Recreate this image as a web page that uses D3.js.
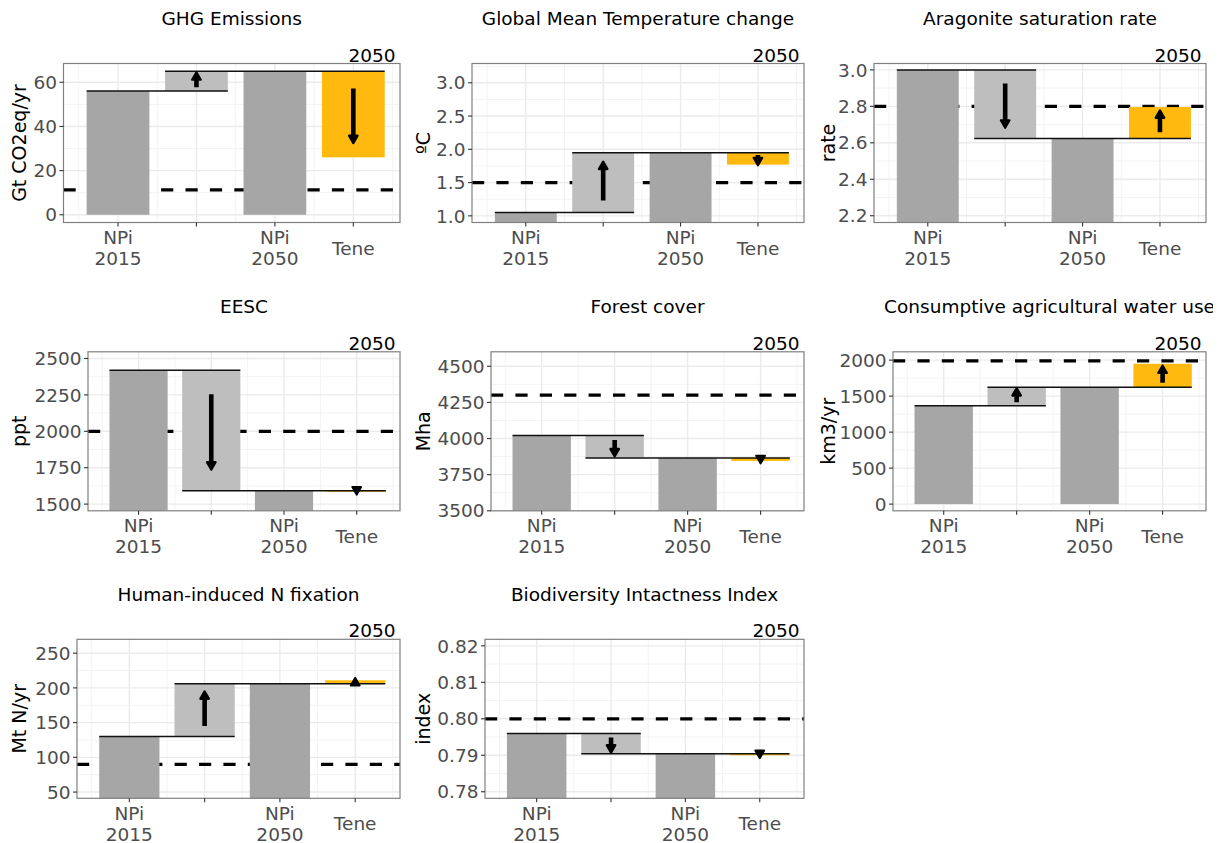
<!DOCTYPE html>
<html>
<head>
<meta charset="utf-8">
<script src="https://cdn.jsdelivr.net/npm/d3@7/dist/d3.min.js"></script>
<style>
  html, body { margin: 0; padding: 0; background: #fff; }
  svg { display: block; font-family: "DejaVu Sans", sans-serif; }
</style>
</head>
<body>
<svg id="chart" width="1222" height="843"></svg>
<script>
// Indicator panels: NPi 2015 -> NPi 2050 -> Tene (2050)
const panelTitles = [
  "GHG Emissions", "Global Mean Temperature change", "Aragonite saturation rate",
  "EESC", "Forest cover", "Consumptive agricultural water use",
  "Human-induced N fixation", "Biodiversity Intactness Index"
];
const unitLabels = ["Gt CO2eq/yr", "ºC", "rate", "ppt", "Mha", "km3/yr", "Mt N/yr", "index"];
const categories = ["NPi\n2015", "", "NPi\n2050", "Tene"];
const npi2015 = [56, 1.05, 3.0, 2419, 4021, 1365, 130, 0.796];
const npi2050 = [65, 1.95, 2.624, 1592, 3866, 1622, 206, 0.7904];
const tene2050 = [26, 1.77, 2.796, 1585, 3845, 1950, 211, 0.7900];
const boundary = [11.3, 1.5, 2.8, 2000, 4300, 1990, 90, 0.80];
const yTicks = [
  [0, 20, 40, 60],
  [1.0, 1.5, 2.0, 2.5, 3.0],
  [2.2, 2.4, 2.6, 2.8, 3.0],
  [1500, 1750, 2000, 2250, 2500],
  [3500, 3750, 4000, 4250, 4500],
  [0, 500, 1000, 1500, 2000],
  [50, 100, 150, 200, 250],
  [0.78, 0.79, 0.80, 0.81, 0.82]
];
const yTickFormats = ["d", ".1f", ".1f", "d", "d", "d", "d", ".2f"];
const yLimits = [
  [-3.5, 68.5], [0.90, 3.29], [2.163, 3.035], [1454, 2546],
  [3500, 4600], [-93, 2116], [41, 270], [0.7782, 0.8218]
];
const periodLabel = "2050";

// layout
const panelLefts = [63.5, 472, 874, 88, 491, 893, 77, 485];
const colRights = [400, 804, 1206];
const colStarts = [0, 404.3, 808.6];
const rowTops = [63.5, 351.8, 639.3];
const panelH = 159;
const xDomain = [0.305, 4.595];
const barHalf = 0.4;

const colDark = "#A6A6A6", colLight = "#BEBEBE", colTene = "#FFB90F";
const fs = 18.5;

const svg = d3.select("#chart");
const defs = svg.append("defs");
defs.append("clipPath").attr("id", "pageclip")
  .append("rect").attr("x", 0).attr("y", 0).attr("width", 1213).attr("height", 843);

panelTitles.forEach((title, i) => {
  const col = i % 3, row = Math.floor(i / 3);
  const L = panelLefts[i], R = colRights[col];
  const T = rowTops[row], B = T + panelH;

  const x = d3.scaleLinear().domain(xDomain).range([L, R]);
  const y = d3.scaleLinear().domain(yLimits[i]).range([B, T]);

  const g = svg.append("g");
  const cid = "clip" + i;
  defs.append("clipPath").attr("id", cid)
    .append("rect").attr("x", L).attr("y", T).attr("width", R - L).attr("height", B - T);

  // grid
  const grid = g.append("g");
  const maj = yTicks[i];
  const step = maj[1] - maj[0];
  const minors = [maj[0] - step / 2].concat(maj.map(v => v + step / 2))
    .filter(v => v > yLimits[i][0] && v < yLimits[i][1]);
  const xMinor = [0.5, 1.5, 2.5, 3.5, 4.5];
  grid.selectAll(".ymin").data(minors).join("line")
    .attr("x1", L).attr("x2", R).attr("y1", d => y(d)).attr("y2", d => y(d))
    .attr("stroke", "#f3f3f3").attr("stroke-width", 1);
  grid.selectAll(".xmin").data(xMinor).join("line")
    .attr("x1", d => x(d)).attr("x2", d => x(d)).attr("y1", T).attr("y2", B)
    .attr("stroke", "#f3f3f3").attr("stroke-width", 1);
  grid.selectAll(".ymaj").data(maj).join("line")
    .attr("x1", L).attr("x2", R).attr("y1", d => y(d)).attr("y2", d => y(d))
    .attr("stroke", "#ebebeb").attr("stroke-width", 1.4);
  grid.selectAll(".xmaj").data([1, 2, 3, 4]).join("line")
    .attr("x1", d => x(d)).attr("x2", d => x(d)).attr("y1", T).attr("y2", B)
    .attr("stroke", "#ebebeb").attr("stroke-width", 1.4);

  const plot = g.append("g").attr("clip-path", `url(#${cid})`);

  // boundary line
  plot.append("line")
    .attr("x1", L).attr("x2", R)
    .attr("y1", y(boundary[i])).attr("y2", y(boundary[i]))
    .attr("stroke", "#000").attr("stroke-width", 3.2)
    .attr("stroke-dasharray", "12.2,12.2");

  // waterfall bars
  const bars = [
    { c: 1, a: 0, b: npi2015[i], fill: colDark },
    { c: 2, a: npi2015[i], b: npi2050[i], fill: colLight },
    { c: 3, a: 0, b: npi2050[i], fill: colDark },
    { c: 4, a: npi2050[i], b: tene2050[i], fill: colTene }
  ];
  plot.selectAll(".bar").data(bars).join("rect")
    .attr("x", d => x(d.c - barHalf))
    .attr("width", d => x(d.c + barHalf) - x(d.c - barHalf))
    .attr("y", d => y(Math.max(d.a, d.b)))
    .attr("height", d => Math.abs(y(d.a) - y(d.b)))
    .attr("fill", d => d.fill);

  // connectors
  const links = [
    { v: npi2015[i], x0: 1 - barHalf, x1: 2 + barHalf },
    { v: npi2050[i], x0: 2 - barHalf, x1: 4 + barHalf }
  ];
  plot.selectAll(".link").data(links).join("line")
    .attr("x1", d => x(d.x0)).attr("x2", d => x(d.x1))
    .attr("y1", d => y(d.v)).attr("y2", d => y(d.v))
    .attr("stroke", "#111").attr("stroke-width", 1.5);

  // change arrows
  const arrows = [
    { c: 2, s: npi2015[i], e: npi2050[i] },
    { c: 4, s: npi2050[i], e: tene2050[i] }
  ];
  arrows.forEach(a => {
    const d = a.e - a.s;
    const yTail = y(a.s + 0.2 * d);
    const yEnd = y(a.e - 0.2 * d);
    const dir = d > 0 ? -1 : 1; // pixel direction of travel
    const tip = yEnd + dir * 3;
    const base = tip - dir * 7.5;
    const cx = x(a.c);
    if ((base - yTail) * dir > 0) {
      plot.append("line")
        .attr("x1", cx).attr("x2", cx).attr("y1", yTail).attr("y2", base + dir * 1)
        .attr("stroke", "#000").attr("stroke-width", 4.6);
    }
    plot.append("path")
      .attr("d", `M${cx},${tip}L${cx - 4.3},${base}L${cx + 4.3},${base}Z`)
      .attr("fill", "#000").attr("stroke", "#000")
      .attr("stroke-width", 2.2).attr("stroke-linejoin", "round");
  });

  // panel border
  g.append("rect").attr("x", L).attr("y", T).attr("width", R - L).attr("height", B - T)
    .attr("fill", "none").attr("stroke", "#808080").attr("stroke-width", 1.2);

  // y axis
  const yAxis = g.append("g");
  yAxis.selectAll("line").data(maj).join("line")
    .attr("x1", L - 4).attr("x2", L).attr("y1", d => y(d)).attr("y2", d => y(d))
    .attr("stroke", "#333").attr("stroke-width", 1.1);
  const fmt = d3.format(yTickFormats[i]);
  yAxis.selectAll("text").data(maj).join("text")
    .attr("x", L - 6.5).attr("y", d => y(d)).attr("dy", "0.36em")
    .attr("text-anchor", "end").attr("font-size", fs).attr("fill", "#4d4d4d")
    .text(d => fmt(d));

  // x axis
  const xAxis = g.append("g");
  xAxis.selectAll("line").data([1, 2, 3, 4]).join("line")
    .attr("x1", d => x(d)).attr("x2", d => x(d)).attr("y1", B).attr("y2", B + 4)
    .attr("stroke", "#333").attr("stroke-width", 1.1);
  categories.forEach((lab, k) => {
    const lines = lab.split("\n").filter(s => s.length);
    if (!lines.length) return;
    const t = xAxis.append("text")
      .attr("text-anchor", "middle").attr("font-size", fs).attr("fill", "#4d4d4d");
    if (lines.length === 1) {
      t.append("tspan").attr("x", x(k + 1)).attr("y", B + 32).text(lines[0]);
    } else {
      lines.forEach((ln, j) => {
        t.append("tspan").attr("x", x(k + 1)).attr("y", B + 21.5 + 21 * j).text(ln);
      });
    }
  });

  // axis title
  g.append("text")
    .attr("transform", `translate(${colStarts[col] + 26},${(T + B) / 2}) rotate(-90)`)
    .attr("text-anchor", "middle").attr("font-size", 19).attr("fill", "#000")
    .text(unitLabels[i]);

  // panel title and period label
  g.append("text").attr("clip-path", "url(#pageclip)")
    .attr("x", (L + R) / 2).attr("y", T - 38.5)
    .attr("text-anchor", "middle").attr("font-size", fs).attr("fill", "#000")
    .text(title);
  g.append("text")
    .attr("x", R - 4.5).attr("y", T - 2)
    .attr("text-anchor", "end").attr("font-size", fs).attr("fill", "#000")
    .text(periodLabel);
});
</script>
</body>
</html>
